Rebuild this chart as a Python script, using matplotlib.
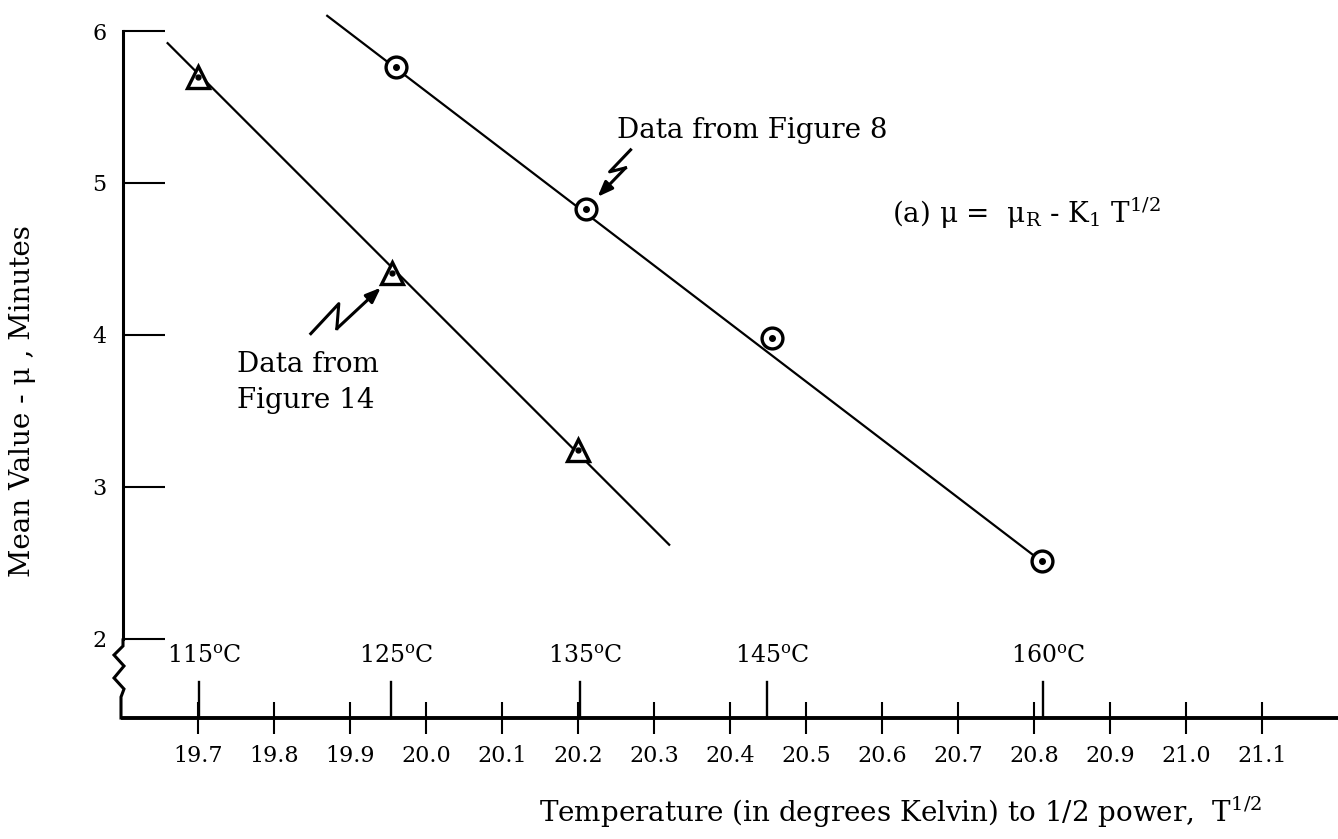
import numpy as np
import matplotlib.pyplot as plt

plt.rcParams['font.family'] = 'DejaVu Serif'
plt.rcParams['mathtext.fontset'] = 'dejavuserif'

# data (x = sqrt of T in K, y = mean value in minutes)
tri_x = [19.70, 19.955, 20.20]
tri_y = [5.70, 4.41, 3.24]
tri_fit_x = [19.66, 20.32]
tri_fit_y = [5.92, 2.62]

circ_x = [19.96, 20.21, 20.455, 20.81]
circ_y = [5.76, 4.83, 3.98, 2.51]
circ_fit_x = [19.87, 20.81]
circ_fit_y = [6.10, 2.51]

xticks = [19.7, 19.8, 19.9, 20.0, 20.1, 20.2, 20.3, 20.4, 20.5, 20.6, 20.7, 20.8, 20.9, 21.0, 21.1]
xticklabels = ['19.7', '19.8', '19.9', '20.0', '20.1', '20.2', '20.3', '20.4',
               '20.5', '20.6', '20.7', '20.8', '20.9', '21.0', '21.1']
yticks = [2, 3, 4, 5, 6]
temps_c = [115, 125, 135, 145, 160]
temps_x = [np.sqrt(t + 273.15) for t in temps_c]

W, H = 1338, 839
fig = plt.figure(figsize=(W / 100, H / 100), dpi=100)
ax = fig.add_axes([123 / W, (H - 718) / H, (W - 123) / W, 718 / H])
x0, x1 = 19.6013, 21.2
y0, y1 = 1.480, 6.204
ax.set_xlim(x0, x1)
ax.set_ylim(y0, y1)

for s in ['top', 'right']:
    ax.spines[s].set_visible(False)
ax.spines['bottom'].set_linewidth(2.8)
ax.spines['left'].set_linewidth(2.2)
ax.spines['left'].set_bounds(2, 6)

# lines and points
ax.plot(tri_fit_x, tri_fit_y, color='black', lw=1.6)
ax.plot(circ_fit_x, circ_fit_y, color='black', lw=1.6)
ax.plot(tri_x, tri_y, ls='none', marker='^', ms=16, mfc='white', mec='black', mew=2.4)
ax.plot(tri_x, tri_y, ls='none', marker='o', ms=3.5, color='black')
ax.plot(circ_x, circ_y, ls='none', marker='o', ms=15, mfc='white', mec='black', mew=2.4)
ax.plot(circ_x, circ_y, ls='none', marker='o', ms=4, color='black')

# ticks
ax.set_yticks(yticks)
ax.set_yticklabels([str(v) for v in yticks])
ax.tick_params(axis='y', direction='in', length=30, width=1.5, pad=12, labelsize=16)
ax.set_xticks(xticks)
ax.set_xticklabels(xticklabels)
ax.tick_params(axis='x', direction='inout', length=23, width=1.5, pad=8, labelsize=16)

# temperature markers on the x axis
ppu_y = 152.0  # pixels per minute
for tx, tc in zip(temps_x, temps_c):
    ax.plot([tx, tx], [y0, y0 + 36 / ppu_y], color='black', lw=1.7, clip_on=False)
    ax.text(tx - 0.042, y0 + 50 / ppu_y, r'%d$^{\rm o}$C' % tc, ha='left', va='bottom', fontsize=17)

# axis break on the left spine
fig.canvas.draw()
to_data = ax.transData.inverted()


def px(points):
    # image pixel coords (y down) -> data coords
    pts = np.array([(p[0], H - p[1]) for p in points], dtype=float)
    return to_data.transform(pts)


brk = px([(123, 640), (123, 646), (114, 655), (124, 666), (114, 678), (124, 689), (121, 697), (121, 718)])
ax.plot(brk[:, 0], brk[:, 1], color='black', lw=2.2, clip_on=False, solid_joinstyle='miter')


# squiggle arrows, defined relative to the target point in pixels
def squiggle(tx, ty, offsets):
    cx, cy = ax.transData.transform((tx, ty))
    pts = np.array([(cx + dx, cy - dy) for dx, dy in offsets])
    d = to_data.transform(pts)
    ax.plot(d[:-1, 0], d[:-1, 1], color='black', lw=2.2)
    ax.annotate('', xy=d[-1], xytext=d[-2],
                arrowprops=dict(arrowstyle='-|>,head_length=0.9,head_width=0.35',
                                color='black', lw=2.2, shrinkA=0, shrinkB=0))


squiggle(circ_x[1], circ_y[1], [(45, -59), (24, -37), (40, -41), (12, -12)])
squiggle(tri_x[1], tri_y[1], [(-81, 61), (-53, 31), (-55, 56), (-11, 15)])

# annotations
fs = 20
fig.text(617 / W, 1 - 131 / H, 'Data from Figure 8', ha='left', va='center', fontsize=fs)
fig.text(237 / W, 1 - 365 / H, 'Data from', ha='left', va='center', fontsize=fs)
fig.text(237 / W, 1 - 400 / H, 'Figure 14', ha='left', va='center', fontsize=fs)
fig.text(892 / W, 1 - 213 / H, r'(a) μ =  μ$_{\rm R}$ - K$_{\rm 1}$ T$^{\rm 1/2}$',
         ha='left', va='center', fontsize=fs)

fig.text(901 / W, 1 - 812 / H, r'Temperature (in degrees Kelvin) to 1/2 power,  T$^{\rm 1/2}$',
         ha='center', va='center', fontsize=fs)
fig.text(23 / W, 1 - 401 / H, 'Mean Value - μ , Minutes', rotation=90,
         ha='center', va='center', fontsize=fs)

fig.savefig('out.png', dpi=100)
